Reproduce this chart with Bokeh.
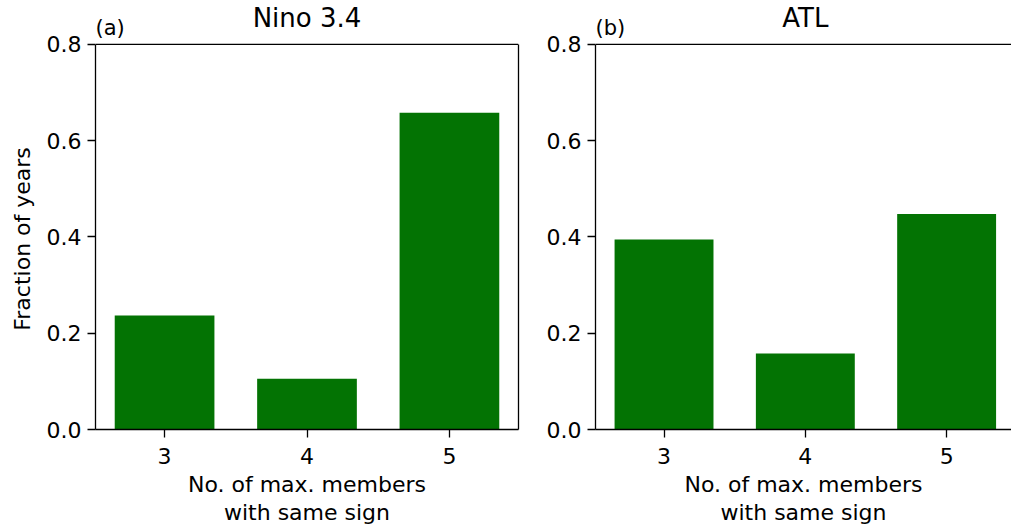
import math
from bokeh.plotting import figure
from bokeh.layouts import row
from bokeh.models import Range1d, FixedTicker, Span, CustomJSTickFormatter, LinearAxis
from bokeh.core.properties import value
from bokeh.embed import file_html
from bokeh.resources import INLINE

members = [3, 4, 5]
nino_frac = [9/38, 4/38, 25/38]
atl_frac = [15/38, 6/38, 17/38]
y_ticks = [0.0, 0.2, 0.4, 0.6, 0.8]
titles = ["Nino 3.4", "ATL"]
panel_tags = ["(a)", "(b)"]
y_label = "Fraction of years"

FONT = "DejaVu Sans"
GREEN = "#037303"
H = 528
FRAME_TOP = 44       # px from top where the axes box starts
FRAME_BOTTOM = 431   # px from top of the zero line
YMAX = 0.8
PX = YMAX / (FRAME_BOTTOM - FRAME_TOP)          # data units per pixel
Y_TOP = YMAX + FRAME_TOP * PX                    # range top so the frame fills the canvas top


def style_axis(ax):
    ax.major_label_text_font = FONT
    ax.major_label_text_font_size = "22px"
    ax.major_label_text_color = "black"
    ax.axis_label_text_font = FONT
    ax.axis_label_text_font_size = "22px"
    ax.axis_label_text_font_style = "normal"
    ax.axis_label_text_color = "black"
    ax.axis_label_text_line_height = 1.15
    ax.major_tick_out = 8
    ax.major_tick_in = 0
    ax.minor_tick_out = 0
    ax.minor_tick_in = 0
    ax.axis_line_width = 1.3
    ax.major_tick_line_width = 1.3
    ax.axis_line_color = "black"
    ax.major_tick_line_color = "black"


def make_panel(vals, xr, width, border_left, border_right, title, tag, right_spine):
    p = figure(width=width, height=H, output_backend="svg", toolbar_location=None,
               x_range=xr, y_range=Range1d(0, Y_TOP),
               min_border_left=border_left, min_border_right=border_right,
               min_border_top=0, min_border_bottom=H - FRAME_BOTTOM)
    p.vbar(x=members, top=vals, width=0.7, fill_color=GREEN, line_color=None)
    p.grid.visible = False
    p.background_fill_color = "white"
    p.border_fill_color = "white"
    p.outline_line_color = None
    p.add_layout(Span(location=YMAX, dimension="width", line_color="black", line_width=1.3))
    style_axis(p.xaxis[0])
    style_axis(p.yaxis[0])
    p.yaxis.bounds = (0, YMAX)
    p.xaxis.ticker = FixedTicker(ticks=members)
    p.yaxis.ticker = FixedTicker(ticks=y_ticks)
    p.yaxis.formatter = CustomJSTickFormatter(code="return tick.toFixed(1);")
    p.xaxis.axis_label = "No. of max. members\nwith same sign"
    p.xaxis.axis_label_standoff = 5
    p.xaxis.major_label_standoff = 10
    p.yaxis.major_label_standoff = 6
    if right_spine:
        ra = LinearAxis(ticker=FixedTicker(ticks=[]), bounds=(0, YMAX),
                        major_label_text_font_size="0px", major_tick_out=0, major_tick_in=0,
                        minor_tick_out=0, minor_tick_in=0,
                        axis_line_color="black", axis_line_width=1.3)
        p.add_layout(ra, "right")
    xmid = (xr.start + 5.485) / 2
    p.text(x=[xmid], y=[YMAX + (FRAME_TOP - 17.5) * PX], text=[title], text_font=value(FONT),
           text_font_size="26px", text_align="center", text_baseline="middle", text_color="black")
    p.text(x=[xr.start], y=[YMAX + (FRAME_TOP - 28) * PX], text=[tag], text_font=value(FONT),
           text_font_size="21px", text_align="left", text_baseline="middle", text_color="black")
    return p


YL_W = 40
ylab = figure(width=YL_W, height=H, output_backend="svg", toolbar_location=None,
              x_range=Range1d(0, YL_W), y_range=Range1d(0, H), x_axis_type=None, y_axis_type=None,
              min_border_left=0, min_border_right=0, min_border_top=0, min_border_bottom=0)
ylab.grid.visible = False
ylab.outline_line_color = None
ylab.text(x=[22], y=[H - (FRAME_TOP + FRAME_BOTTOM) / 2 - 56], text=[y_label], angle=math.pi / 2,
          text_font=value(FONT), text_font_size="22px", text_align="center",
          text_baseline="middle", text_color="black")

xr1 = Range1d(2.515, 5.485)
xr2 = Range1d(2.515, 2.515 + 416 / 141.3)

p1 = make_panel(nino_frac, xr1, 95 - YL_W + 423 + 10, 95 - YL_W, 10, titles[0], panel_tags[0], True)
p2 = make_panel(atl_frac, xr2, 483, 67, 0, titles[1], panel_tags[1], False)

layout = row(ylab, p1, p2)
open("out.html", "w").write(file_html(layout, INLINE))
